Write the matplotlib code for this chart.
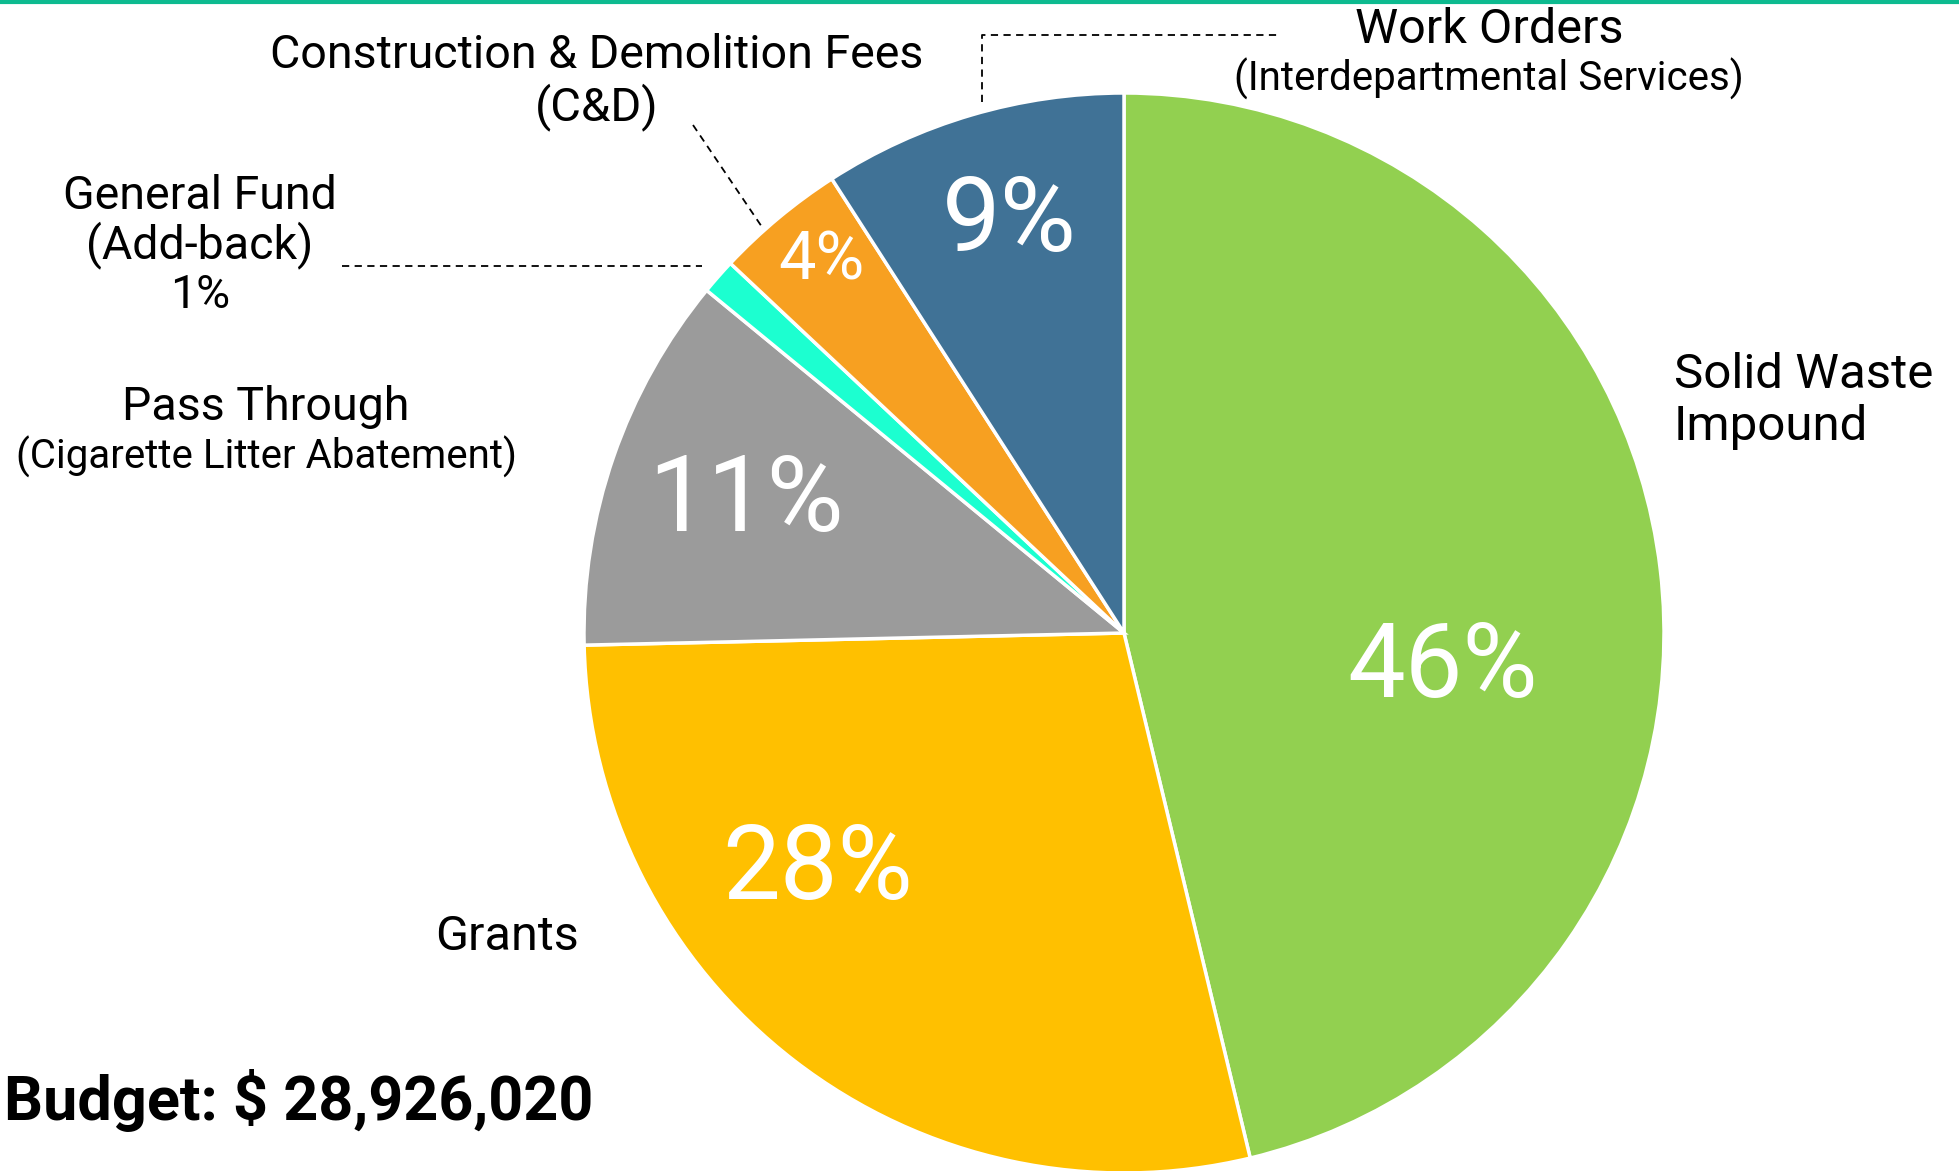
import matplotlib
matplotlib.use("Agg")
import matplotlib.pyplot as plt
from matplotlib import font_manager

# revenue sources, clockwise from 12 o'clock
sources = [
    "Solid Waste Impound",
    "Grants",
    "Pass Through",
    "General Fund",
    "Construction & Demolition Fees",
    "Work Orders",
]
shares = [46.25, 28.4, 11.3, 1.06, 3.9, 9.1]
pct_labels = ["46%", "28%", "11%", "", "4%", "9%"]
colors = ["#92D050", "#FFC000", "#9B9B9B", "#1CFFD0", "#F7A021", "#407296"]
total_budget = "Budget: $ 28,926,020"

W, H = 1959, 1171

installed = {f.name for f in font_manager.fontManager.ttflist}
family = "DejaVu Sans"
for cand in ["Roboto", "Lato", "Open Sans"]:
    if cand in installed:
        family = cand
        break
plt.rcParams["font.family"] = [family, "DejaVu Sans"]

fig = plt.figure(figsize=(W / 100, H / 100), dpi=100)
ax = fig.add_axes([0, 0, 1, 1])

cx, cy, r = 1124, H - 633, 540
wedges, _ = ax.pie(shares, colors=colors, startangle=90, counterclock=False,
                   center=(cx, cy), radius=r, frame=True,
                   wedgeprops=dict(edgecolor="white", linewidth=2.5))

ax.set_xlim(0, W)
ax.set_ylim(0, H)
ax.set_aspect("equal")
ax.axis("off")


def yy(y):
    # picture coordinates measured from the top
    return H - y


# percentage labels inside the slices
pct_pos = [(1443, 668, 74), (818, 871, 74), (746, 503, 76), None, (821, 262, 48), (1009, 222, 75)]
for lab, pos in zip(pct_labels, pct_pos):
    if pos is None:
        continue
    ax.text(pos[0], yy(pos[1]), lab, color="white", fontsize=pos[2],
            ha="center", va="center")

# outside labels
ax.text(1489, yy(30), "Work Orders", fontsize=35, ha="center", va="center")
ax.text(1489, yy(79), "(Interdepartmental Services)", fontsize=29, ha="center", va="center")
ax.text(597, yy(55), "Construction & Demolition Fees", fontsize=33.5, ha="center", va="center")
ax.text(597, yy(107), "(C&D)", fontsize=34, ha="center", va="center")
ax.text(200, yy(196), "General Fund", fontsize=33.5, ha="center", va="center")
ax.text(200, yy(245), "(Add-back)", fontsize=33.5, ha="center", va="center")
ax.text(200, yy(295), "1%", fontsize=33.5, ha="center", va="center")
ax.text(266, yy(407), "Pass Through", fontsize=33.5, ha="center", va="center")
ax.text(266, yy(457), "(Cigarette Litter Abatement)", fontsize=29, ha="center", va="center")
ax.text(1674, yy(375), "Solid Waste", fontsize=35.5, ha="left", va="center")
ax.text(1674, yy(427), "Impound", fontsize=35.5, ha="left", va="center")
ax.text(507, yy(937), "Grants", fontsize=35, ha="center", va="center")

# leader lines
dash = dict(color="black", linestyle=(0, (4, 3)), linewidth=1.3)
ax.plot([982, 982, 1280], [yy(102), yy(35), yy(35)], **dash)
ax.plot([693, 762], [yy(125), yy(227)], **dash)
ax.plot([342, 702], [yy(266), yy(266)], **dash)

# total budget, bottom left
ax.text(4, yy(1100), total_budget, fontsize=44, fontweight="bold",
        ha="left", va="center")

# teal rule along the top
ax.axhline(H - 1.5, color="#0DBA8F", linewidth=3)

fig.savefig("out.png", dpi=100)
